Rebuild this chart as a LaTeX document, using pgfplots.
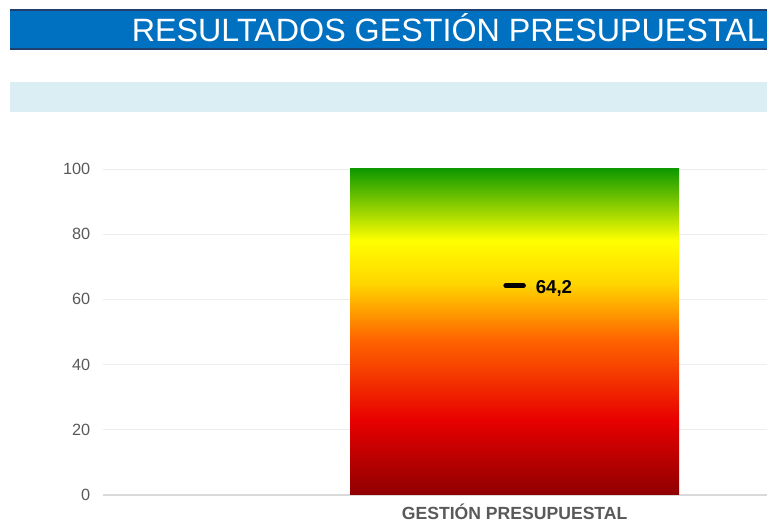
\documentclass[border=0pt]{standalone}
\usepackage{pgfplots}
\pgfplotsset{compat=1.18}
\usepackage{fontspec}
\setmainfont{Liberation Sans}
\definecolor{titleblue}{HTML}{0070C0}
\definecolor{titleedge}{HTML}{1F3F6F}
\definecolor{lightband}{HTML}{DAEEF3}
\definecolor{ticktext}{HTML}{595959}
\definecolor{gridc}{HTML}{EDEDED}
\definecolor{axisc}{HTML}{D9D9D9}
\pgfdeclareverticalshading{barshade}{100bp}{%
  rgb(0bp)=(0.56,0,0);
  rgb(25bp)=(0.56,0,0);
  rgb(36.5bp)=(0.91,0,0);
  rgb(49bp)=(1,0.40,0);
  rgb(57.5bp)=(1,0.84,0);
  rgb(64bp)=(1,1,0);
  rgb(75bp)=(0.06,0.60,0);
  rgb(100bp)=(0.06,0.60,0)}
\begin{document}
\begin{tikzpicture}[x=0.75pt,y=0.75pt]
\useasboundingbox (0,0) rectangle (767,524);
% title bar
\fill[titleblue] (10,514) rectangle (767,475);
\draw[titleedge, line width=1.2pt] (10,514) -- (767,514);
\draw[titleedge, line width=1.2pt] (10,475) -- (767,475);
\node[anchor=base east, inner sep=0pt, text=white, font=\fontsize{24.2}{29}\selectfont] at (765,482) {RESULTADOS GESTIÓN PRESUPUESTAL};
% light band
\fill[lightband] (10,442) rectangle (767,412);
\begin{axis}[
  at={(77.25pt,21.75pt)}, anchor=south west,
  scale only axis, width=498pt, height=244.5pt,
  xmin=-1.251, xmax=0.767, ymin=0, ymax=100,
  axis x line*=bottom, axis y line*=left,
  x axis line style={axisc, line width=1pt, -},
  y axis line style={draw=none},
  ytick={0,20,...,100}, xtick={0},
  xticklabels={GESTIÓN PRESUPUESTAL},
  ymajorgrids, grid style={gridc, line width=0.6pt},
  major tick length=0pt,
  ticklabel style={text=ticktext},
  yticklabel style={font=\fontsize{12.2}{14}\selectfont, xshift=-6pt},
  xticklabel style={font=\bfseries\fontsize{13.2}{15}\selectfont, yshift=-3pt},
  /pgf/number format/assume math mode=true,
  clip=false,
]
\addplot[ybar, bar width=1, draw=none, shade, shading=barshade] coordinates {(0,100)};
\addplot[only marks, mark=-, mark size=6.6pt, mark options={line width=3.7pt, line cap=round, black},
  point meta=explicit symbolic,
  nodes near coords, nodes near coords style={anchor=west, inner sep=0pt, xshift=14pt, yshift=-1.8pt, font=\bfseries\fontsize{14}{16}\selectfont, text=black}]
  coordinates {(0,64.2) [64,2]};
\end{axis}
\end{tikzpicture}
\end{document}
